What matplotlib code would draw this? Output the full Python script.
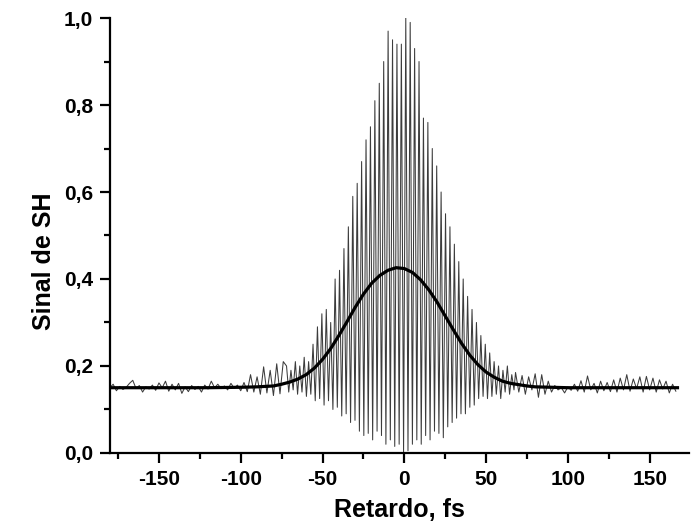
import numpy as np
import matplotlib
matplotlib.use("Agg")
import matplotlib.pyplot as plt
from matplotlib.ticker import MultipleLocator, FuncFormatter

plt.rcParams['font.family'] = ['Liberation Sans', 'DejaVu Sans']
plt.rcParams['font.weight'] = 'bold'

# left wing of the trace (delay in fs, 2 fs steps)
left_t = np.arange(-180, -73, 2)
left_y = [0.150, 0.158, 0.143, 0.153, 0.146, 0.151, 0.160, 0.167, 0.148, 0.155,
          0.140, 0.152, 0.147, 0.156, 0.144, 0.161, 0.150, 0.165, 0.142, 0.158,
          0.145, 0.160, 0.137, 0.152, 0.141, 0.155, 0.146, 0.153, 0.140, 0.156,
          0.147, 0.165, 0.150, 0.158, 0.148, 0.154, 0.145, 0.160, 0.149, 0.156,
          0.143, 0.162, 0.141, 0.180, 0.140, 0.175, 0.135, 0.198, 0.138, 0.190,
          0.132, 0.205, 0.136, 0.210]

# central fringes: one maximum and one minimum per optical period
fringe_t = np.arange(-72, 66, 2.7)
fringe_max = [0.20, 0.19, 0.21, 0.20, 0.22, 0.21, 0.25, 0.29, 0.32, 0.33,
              0.30, 0.40, 0.42, 0.47, 0.52, 0.59, 0.62, 0.67, 0.72, 0.75,
              0.81, 0.85, 0.90, 0.97, 0.95, 0.94, 0.94, 1.00, 0.99, 0.93,
              0.90, 0.77, 0.76, 0.70, 0.66, 0.60, 0.55, 0.52, 0.48, 0.44,
              0.40, 0.36, 0.33, 0.30, 0.27, 0.25, 0.23, 0.21, 0.20, 0.19,
              0.20, 0.18]
fringe_min = [0.140, 0.145, 0.135, 0.140, 0.130, 0.135, 0.120, 0.125, 0.110, 0.120,
              0.100, 0.105, 0.085, 0.090, 0.070, 0.075, 0.050, 0.040, 0.045, 0.030,
              0.050, 0.040, 0.020, 0.030, 0.015, 0.020, 0.000, 0.005, 0.020, 0.030,
              0.020, 0.040, 0.030, 0.050, 0.045, 0.035, 0.060, 0.070, 0.080, 0.090,
              0.090, 0.105, 0.110, 0.125, 0.130, 0.125, 0.130, 0.135, 0.125, 0.140,
              0.135, 0.145]

# right wing of the trace
right_t = np.arange(68, 167, 2)
right_y = [0.185, 0.140, 0.178, 0.135, 0.175, 0.145, 0.182, 0.128, 0.180, 0.135,
           0.165, 0.140, 0.155, 0.145, 0.150, 0.138, 0.152, 0.144, 0.158, 0.142,
           0.166, 0.140, 0.177, 0.145, 0.160, 0.138, 0.165, 0.143, 0.162, 0.141,
           0.168, 0.140, 0.172, 0.145, 0.180, 0.142, 0.170, 0.148, 0.175, 0.140,
           0.176, 0.145, 0.172, 0.140, 0.168, 0.147, 0.165, 0.138, 0.158, 0.142]

# gaussian fit
fit_t = [-180, -120, -100, -90, -80, -75, -70, -65, -60, -55, -50, -45, -40, -35,
         -30, -25, -20, -15, -10, -5, 0, 5, 10, 15, 20, 25, 30, 35, 40, 45, 50,
         55, 60, 65, 70, 75, 80, 90, 100, 167]
fit_y = [0.150, 0.150, 0.151, 0.152, 0.154, 0.158, 0.163, 0.170, 0.180, 0.195,
         0.215, 0.240, 0.270, 0.302, 0.335, 0.365, 0.390, 0.408, 0.420, 0.426,
         0.424, 0.415, 0.398, 0.375, 0.347, 0.315, 0.283, 0.252, 0.225, 0.203,
         0.186, 0.174, 0.165, 0.160, 0.157, 0.154, 0.152, 0.151, 0.150, 0.150]

# interleave fringe maxima and minima
mid_t = np.empty(2 * len(fringe_t))
mid_t[0::2] = fringe_t
mid_t[1::2] = fringe_t + 1.35
mid_y = np.empty(2 * len(fringe_t))
mid_y[0::2] = fringe_max
mid_y[1::2] = fringe_min

t = np.concatenate([left_t, mid_t, right_t])
y = np.concatenate([left_y, mid_y, right_y])

fig = plt.figure(figsize=(6.91, 5.31), dpi=100)
ax = fig.add_axes([0.159, 0.147, 0.838, 0.819])

ax.plot(t, y, color='#3c3c3c', lw=0.75)
ax.plot(fit_t, fit_y, color='black', lw=2.3)

ax.set_xlim(-180, 174)
ax.set_ylim(0, 1.0)

ax.spines['top'].set_visible(False)
ax.spines['right'].set_visible(False)
for s in ('left', 'bottom'):
    ax.spines[s].set_linewidth(1.6)

ax.xaxis.set_major_locator(MultipleLocator(50))
ax.xaxis.set_minor_locator(MultipleLocator(25))
ax.yaxis.set_major_locator(MultipleLocator(0.2))
ax.yaxis.set_minor_locator(MultipleLocator(0.1))
ax.tick_params(which='major', direction='out', length=7, width=1.6, labelsize=15, pad=5)
ax.tick_params(which='minor', direction='out', length=4, width=1.6)

ax.xaxis.set_major_formatter(FuncFormatter(lambda v, p: '%d' % round(v)))
ax.yaxis.set_major_formatter(FuncFormatter(lambda v, p: ('%.1f' % v).replace('.', ',')))

ax.set_xlabel('Retardo, fs', fontsize=18, fontweight='bold')
ax.set_ylabel('Sinal de SH', fontsize=18, fontweight='bold')
ax.xaxis.set_label_coords(0.5, -0.103)
ax.yaxis.set_label_coords(-0.093, 0.44)

fig.savefig('out.png', dpi=100)
